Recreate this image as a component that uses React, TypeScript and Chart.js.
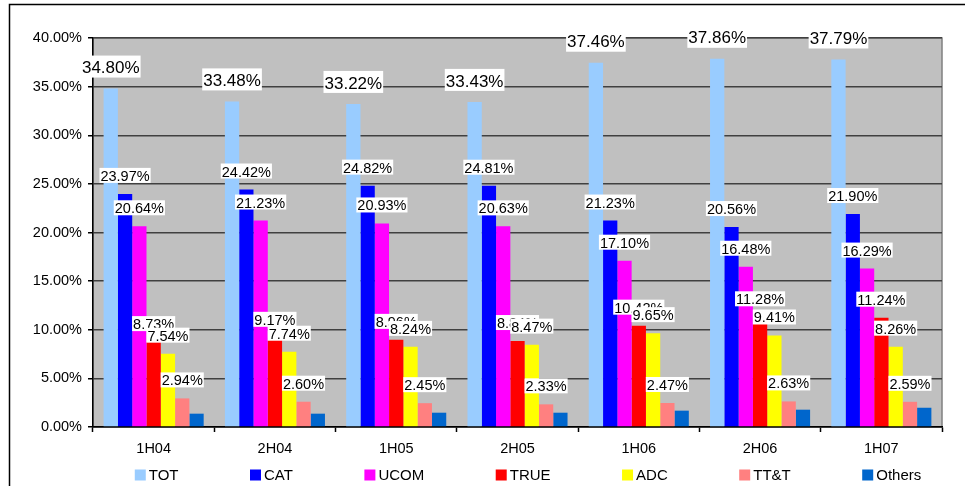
import React, { useEffect, useRef } from "react";
import { Chart, registerables } from "chart.js";

Chart.register(...registerables);

const categories = ["1H04", "2H04", "1H05", "2H05", "1H06", "2H06", "1H07"];
const seriesNames = ["TOT", "CAT", "UCOM", "TRUE", "ADC", "TT&T", "Others"];
const totValues = [34.8, 33.48, 33.22, 33.43, 37.46, 37.86, 37.79];
const catValues = [23.97, 24.42, 24.82, 24.81, 21.23, 20.56, 21.9];
const ucomValues = [20.64, 21.23, 20.93, 20.63, 17.1, 16.48, 16.29];
const trueValues = [8.73, 9.17, 8.96, 8.84, 10.42, 11.28, 11.24];
const adcValues = [7.54, 7.74, 8.24, 8.47, 9.65, 9.41, 8.26];
const ttntValues = [2.94, 2.6, 2.45, 2.33, 2.47, 2.63, 2.59];
const otherValues = [1.37, 1.37, 1.47, 1.47, 1.68, 1.78, 1.98];
const yTicks = [0, 5, 10, 15, 20, 25, 30, 35, 40];

const seriesColors = ["#99CCFF", "#0000FF", "#FF00FF", "#FF0000", "#FFFF00", "#FF8080", "#0066CC"];
const FONT = '"Liberation Sans", Arial, sans-serif';

const backgroundPlugin = {
  id: "excelBackground",
  beforeDraw(chart: any) {
    const { ctx, chartArea, width, height } = chart;
    ctx.save();
    ctx.fillStyle = "#ffffff";
    ctx.fillRect(0, 0, width, height);
    // outer chart border (extends beyond right/bottom edges)
    ctx.strokeStyle = "#000000";
    ctx.lineWidth = 1.5;
    ctx.strokeRect(9.5, 4.5, width + 50, height + 50);
    // plot area
    ctx.fillStyle = "#C0C0C0";
    ctx.fillRect(chartArea.left, chartArea.top, chartArea.right - chartArea.left, chartArea.bottom - chartArea.top);
    ctx.strokeStyle = "#808080";
    ctx.lineWidth = 1.5;
    ctx.strokeRect(chartArea.left, chartArea.top, chartArea.right - chartArea.left, chartArea.bottom - chartArea.top);
    ctx.restore();
  },
};

const valueLabelPlugin = {
  id: "valueLabels",
  afterDatasetsDraw(chart: any) {
    const ctx = chart.ctx;
    chart.data.datasets.forEach((ds: any, di: number) => {
      if (ds.label === "Others") return;
      const meta = chart.getDatasetMeta(di);
      const big = di === 0;
      const size = big ? 17 : 14.5;
      ctx.save();
      ctx.font = `${size}px ${FONT}`;
      ctx.textAlign = "center";
      ctx.textBaseline = "middle";
      meta.data.forEach((bar: any, i: number) => {
        const v = ds.data[i] as number;
        const text = v.toFixed(2) + "%";
        const w = ctx.measureText(text).width + 2;
        const cy = bar.y - (big ? 21 : 18);
        const top = cy - (big ? 12 : 8);
        const h = big ? 22 : 15;
        ctx.fillStyle = "#ffffff";
        ctx.fillRect(bar.x - w / 2, top, w, h);
        ctx.fillStyle = "#000000";
        ctx.fillText(text, bar.x, cy + 1);
      });
      ctx.restore();
    });
  },
};

const legendPlugin = {
  id: "spacedLegend",
  afterDraw(chart: any) {
    const ctx = chart.ctx;
    const datasets = chart.data.datasets;
    const size = 15;
    const box = 11;
    const gapText = 3;
    const gapItem = 71.5;
    ctx.save();
    ctx.font = `${size}px ${FONT}`;
    ctx.textBaseline = "middle";
    ctx.textAlign = "left";
    const widths = datasets.map((d: any) => box + gapText + ctx.measureText(d.label).width);
    const total = widths.reduce((a: number, b: number) => a + b, 0) + gapItem * (widths.length - 1);
    let x = 528 - total / 2;
    const cy = 475;
    datasets.forEach((d: any, i: number) => {
      ctx.fillStyle = d.backgroundColor;
      ctx.fillRect(x, cy - box / 2, box, box);
      ctx.fillStyle = "#000000";
      ctx.fillText(d.label, x + box + gapText, cy + 1);
      x += widths[i] + gapItem;
    });
    ctx.restore();
  },
};

export default function App() {
  const canvasRef = useRef<HTMLCanvasElement | null>(null);

  useEffect(() => {
    if (!canvasRef.current) return;
    const valueSets = [totValues, catValues, ucomValues, trueValues, adcValues, ttntValues, otherValues];
    const chart = new Chart(canvasRef.current, {
      type: "bar",
      data: {
        labels: categories,
        datasets: seriesNames.map((name, i) => ({
          label: name,
          data: valueSets[i],
          backgroundColor: seriesColors[i],
          borderWidth: 0,
          barPercentage: 1,
          categoryPercentage: 0.825,
        })),
      },
      options: {
        animation: false,
        responsive: false,
        devicePixelRatio: 1,
        layout: { padding: { top: 38, right: 23, bottom: 0, left: 0 } },
        plugins: {
          legend: { display: false },
          tooltip: { enabled: false },
          title: { display: false },
        },
        scales: {
          x: {
            afterFit: (scale: any) => {
              scale.height = 59;
            },
            grid: {
              drawOnChartArea: false,
              drawTicks: true,
              tickLength: 5,
              offset: true,
              tickColor: "#000000",
              tickWidth: 1.5,
            },
            border: { color: "#000000", width: 1.5 },
            ticks: {
              color: "#000000",
              font: { family: FONT, size: 14.5 },
              padding: 8,
            },
          },
          y: {
            min: 0,
            max: 40,
            afterFit: (scale: any) => {
              scale.width = 93;
            },
            afterBuildTicks: (scale: any) => {
              scale.ticks = yTicks.map((v) => ({ value: v }));
            },
            grid: {
              color: "#404040",
              lineWidth: 1.5,
              drawTicks: true,
              tickLength: 5,
              tickColor: "#000000",
              tickWidth: 1.5,
            },
            border: { color: "#000000", width: 1.5 },
            ticks: {
              color: "#000000",
              font: { family: FONT, size: 14.5 },
              padding: 6,
              callback: (v: any) => Number(v).toFixed(2) + "%",
            },
          },
        },
      },
      plugins: [backgroundPlugin, valueLabelPlugin, legendPlugin],
    });
    return () => chart.destroy();
  }, []);

  return (
    <div style={{ position: "absolute", left: 0, top: 0, width: 965, height: 486 }}>
      <canvas ref={canvasRef} width={965} height={486} />
    </div>
  );
}
